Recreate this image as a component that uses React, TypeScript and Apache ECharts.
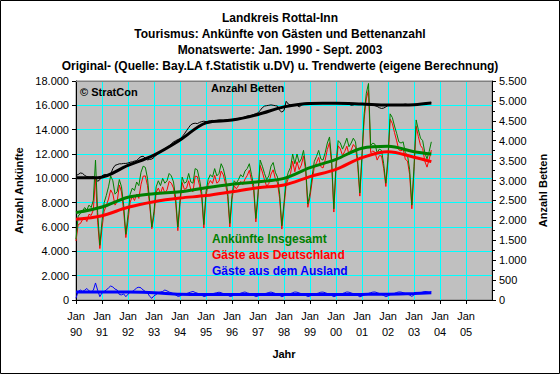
import React, { useEffect, useRef } from 'react';
import * as echarts from 'echarts';

const titleLines = [
  'Landkreis Rottal-Inn',
  'Tourismus: Ankünfte von Gästen und Bettenanzahl',
  'Monatswerte: Jan. 1990 - Sept. 2003',
  'Original- (Quelle: Bay.LA f.Statistik u.DV) u. Trendwerte (eigene Berechnung)',
];

const yearLabels = ['90', '91', '92', '93', '94', '95', '96', '97', '98', '99', '00', '01', '02', '03', '04', '05'];

// Monthly values Jan 1990 .. Sep 2003
const ankuenfte = [
  5000, 6900, 7100, 7300, 7600, 7400, 7800, 7600, 8200, 11500, 7200, 4500,
  6500, 8000, 8600, 9300, 10200, 9800, 8700, 8900, 9900, 9300, 7800, 5400,
  7000, 8700, 9200, 9000, 9700, 9400, 10500, 11000, 10900, 10000, 8100, 6000,
  7300, 9300, 9800, 9400, 10000, 9600, 9800, 10400, 10200, 9700, 8400, 6000,
  8200, 10100, 9600, 9700, 10400, 9700, 9600, 10800, 10700, 9900, 8900, 6200,
  8900, 9900, 10300, 10100, 10800, 10200, 10400, 11200, 10800, 10000, 8900, 6300,
  8600, 9800, 9600, 9900, 10300, 10100, 10600, 10800, 11200, 10300, 9400, 6700,
  8800, 11500, 11000, 10400, 9900, 10200, 11000, 11300, 10500, 10100, 8700, 6100,
  8000, 9900, 10500, 10900, 12000, 11200, 12000, 11300, 11600, 12300, 11000, 7900,
  8800, 10200, 11400, 11800, 12300, 11600, 11500, 12100, 12900, 13400, 11500, 7500,
  11200, 13100, 12900, 12400, 12800, 13300, 12600, 12900, 13300, 13000, 11500, 8800,
  12000, 15300, 17000, 17800, 12700, 12900, 12800, 12100, 12400, 12300, 11200, 9600,
  11800, 15300, 15000, 14300, 13700, 13000, 12900, 13000, 12100, 11900, 10700, 7800,
  11000, 14800, 14000, 13300, 13100, 12100, 11600, 12200, 13000,
];

const deutschland = [
  4850, 6200, 6280, 6600, 6800, 6450, 7050, 6950, 7400, 10100, 6400, 4230,
  5920, 7300, 7780, 8300, 9050, 8730, 7800, 8080, 9450, 8880, 7300, 5130,
  6520, 8050, 8500, 8180, 8700, 8350, 9500, 10180, 10200, 9400, 7800, 5860,
  6950, 8850, 9200, 8750, 9300, 8780, 9050, 9750, 9600, 9200, 7980, 5700,
  7870, 9650, 9100, 9180, 9800, 9050, 8900, 10180, 10140, 9420, 8500, 5920,
  8570, 9480, 9820, 9580, 10240, 9600, 9760, 10600, 10280, 9550, 8500, 6000,
  8280, 9380, 9140, 9400, 9740, 9480, 9940, 10220, 10660, 9840, 9020, 6420,
  8470, 11060, 10520, 9880, 9340, 9580, 10350, 10700, 9960, 9630, 8320, 5830,
  7660, 9470, 10020, 10380, 11400, 10540, 11360, 10720, 11080, 11840, 10620, 7620,
  8470, 9780, 10930, 11280, 11720, 10960, 10850, 11500, 12370, 12940, 11130, 7230,
  10860, 12670, 12420, 11870, 12200, 12640, 11960, 12320, 12780, 12550, 11120, 8540,
  11670, 14870, 16530, 17260, 12100, 12250, 12140, 11500, 11870, 11840, 10820, 9330,
  11460, 14860, 14510, 13760, 13080, 12340, 12250, 12400, 11560, 11420, 10300, 7500,
  10580, 14280, 13440, 12700, 12450, 11400, 10920, 11560, 12320,
];

const ausland = [
  150, 700, 820, 700, 800, 950, 750, 650, 800, 1400, 800, 270,
  580, 700, 820, 1000, 1150, 1070, 900, 820, 450, 420, 500, 270,
  480, 650, 700, 820, 1000, 1050, 1000, 820, 700, 600, 300, 140,
  350, 450, 600, 650, 700, 820, 750, 650, 600, 500, 420, 300,
  330, 450, 500, 520, 600, 650, 700, 620, 560, 480, 400, 280,
  330, 420, 480, 520, 560, 600, 640, 600, 520, 450, 400, 300,
  320, 420, 460, 500, 560, 620, 660, 580, 540, 460, 380, 280,
  330, 440, 480, 520, 560, 620, 650, 600, 540, 470, 380, 270,
  340, 430, 480, 520, 600, 660, 640, 580, 520, 460, 380, 280,
  330, 420, 470, 520, 580, 640, 650, 600, 530, 460, 370, 270,
  340, 430, 480, 530, 600, 660, 640, 580, 520, 450, 380, 260,
  330, 430, 470, 540, 600, 650, 660, 600, 530, 460, 380, 270,
  340, 440, 490, 540, 620, 660, 650, 600, 540, 480, 400, 300,
  420, 520, 560, 600, 650, 700, 680, 640, 680,
];

const betten = [
  3130, 3150, 3190, 3180, 3130, 3100, 3090, 3090, 3100, 3050, 2980, 3020,
  3120, 3150, 3150, 3140, 3160, 3300, 3380, 3400, 3420, 3420, 3430, 3430,
  3440, 3460, 3470, 3490, 3500, 3560, 3600, 3610, 3560, 3520, 3530, 3540,
  3580, 3640, 3680, 3720, 3770, 3800, 3830, 3870, 3920, 3970, 4000, 4030,
  4050, 4100, 4170, 4250, 4330, 4400, 4430, 4440, 4430, 4460, 4480, 4490,
  4480, 4490, 4500, 4510, 4500, 4510, 4520, 4520, 4510, 4520, 4530, 4530,
  4530, 4540, 4550, 4560, 4570, 4580, 4600, 4620, 4630, 4640, 4660, 4680,
  4700, 4760, 4830, 4870, 4880, 4890, 4900, 4890, 4880, 4870, 4760, 4720,
  4760, 4990, 4920, 4900, 4890, 4900, 4890, 4850, 4890, 4920, 4940, 4950,
  4950, 4950, 4960, 4950, 4950, 4960, 4960, 4950, 4950, 4960, 4950, 4940,
  4950, 4950, 4940, 4930, 4940, 4950, 4920, 4890, 4900, 4920, 4920, 4930,
  4920, 4920, 4910, 4900, 4900, 4890, 4880, 4860, 4830, 4810, 4820, 4850,
  4890, 4900, 4900, 4910, 4910, 4900, 4910, 4910, 4920, 4910, 4910, 4900,
  4900, 4910, 4920, 4920, 4930, 4940, 4940, 4950, 4960,
];

// Trend values (month index from Jan 1990)
const trendMonths = [0, 12, 24, 36, 48, 60, 72, 84, 96, 108, 120, 132, 144, 156, 164];
const ankuenfteTrend = [7180, 7640, 8440, 8740, 8900, 9230, 9510, 9720, 10000, 10880, 11560, 12470, 12630, 12190, 12000];
const deutschlandTrend = [6630, 6930, 7620, 8080, 8380, 8580, 8900, 9230, 9450, 10140, 10740, 11700, 12190, 11730, 11370];
const auslandTrend = [660, 660, 650, 600, 470, 450, 450, 450, 450, 450, 450, 460, 480, 540, 600];
const bettenTrendMonths = [0, 10, 24, 36, 48, 60, 72, 84, 96, 108, 120, 132, 144, 156, 164];
const bettenTrend = [3070, 3070, 3380, 3640, 4016, 4450, 4518, 4660, 4850, 4937, 4940, 4920, 4895, 4905, 4945];

const FONT = 'Arial, "Liberation Sans", sans-serif';

function fmt(v: number): string {
  if (v >= 1000) {
    const t = Math.floor(v / 1000);
    const r = v % 1000;
    return t + '.' + String(r).padStart(3, '0');
  }
  return String(v);
}

function monthly(arr: number[]) {
  return arr.map((v, i) => [i, v]);
}
function pairs(ms: number[], vs: number[]) {
  return ms.map((m, i) => [m, vs[i]]);
}

function thin(name: string, data: any, color: string, yAxisIndex = 0) {
  return {
    name, type: 'line', data, yAxisIndex, symbol: 'none', silent: true,
    lineStyle: { color, width: 1 }, z: 3,
  };
}
function thick(name: string, data: any, color: string, yAxisIndex = 0) {
  return {
    name, type: 'line', data, yAxisIndex, symbol: 'none', silent: true, smooth: 0.35,
    lineStyle: { color, width: 3 }, z: 4,
  };
}

export default function App() {
  const ref = useRef<HTMLDivElement>(null);
  useEffect(() => {
    if (!ref.current) return;
    const chart = echarts.init(ref.current, null, { renderer: 'svg' });
    const option: any = {
      animation: false,
      backgroundColor: '#ffffff',
      title: {
        text: titleLines.join('\n'),
        left: 'center',
        top: 5,
        textStyle: { fontFamily: FONT, fontSize: 12, fontWeight: 'bold', lineHeight: 16, color: '#000' },
      },
      grid: {
        left: 76, top: 81, width: 416, height: 219,
        show: true, backgroundColor: '#C0C0C0', borderColor: '#808080', borderWidth: 1,
      },
      xAxis: {
        type: 'value', min: 0, max: 192, interval: 12,
        axisLine: { show: true, lineStyle: { color: '#000', width: 1 } },
        axisTick: { show: true, length: 4, lineStyle: { color: '#000' } },
        axisLabel: {
          formatter: (v: number) => {
            const i = Math.round(v / 12);
            return i < yearLabels.length ? 'Jan\n' + yearLabels[i] : '';
          },
          color: '#000', fontFamily: FONT, fontSize: 11, lineHeight: 16, margin: 8,
          showMaxLabel: false,
        },
        splitLine: { show: true, lineStyle: { color: '#00FFFF', width: 1 } },
        name: 'Jahr', nameLocation: 'middle', nameGap: 48,
        nameTextStyle: { fontFamily: FONT, fontSize: 11, fontWeight: 'bold', color: '#000' },
      },
      yAxis: [
        {
          type: 'value', min: 0, max: 18000, interval: 2000, position: 'left',
          axisLine: { show: true, lineStyle: { color: '#000', width: 1 } },
          axisTick: { show: true, length: 4, lineStyle: { color: '#000' } },
          axisLabel: { formatter: fmt, color: '#000', fontFamily: FONT, fontSize: 11, margin: 7 },
          splitLine: { show: true, lineStyle: { color: '#00FFFF', width: 1 } },
          name: 'Anzahl Ankünfte', nameLocation: 'middle', nameGap: 46, nameRotate: 90,
          nameTextStyle: { fontFamily: FONT, fontSize: 11, fontWeight: 'bold', color: '#000' },
        },
        {
          type: 'value', min: 0, max: 5500, interval: 500, position: 'right',
          axisLine: { show: true, lineStyle: { color: '#000', width: 1 } },
          axisTick: { show: true, length: 4, lineStyle: { color: '#000' } },
          minorTick: { show: true, splitNumber: 2, length: 3, lineStyle: { color: '#000' } },
          axisLabel: { formatter: fmt, color: '#000', fontFamily: FONT, fontSize: 11, margin: 7 },
          splitLine: { show: false },
          name: 'Anzahl Betten', nameLocation: 'middle', nameGap: 41, nameRotate: 90,
          nameTextStyle: { fontFamily: FONT, fontSize: 11, fontWeight: 'bold', color: '#000' },
        },
      ],
      graphic: [
        { type: 'rect', silent: true, z: 100, shape: { x: 0.5, y: 0.5, width: 559, height: 373 }, style: { fill: 'none', stroke: '#000', lineWidth: 1 } },
        { type: 'line', silent: true, z: 100, shape: { x1: 76, y1: 81.5, x2: 492, y2: 81.5 }, style: { stroke: '#808080', lineWidth: 1 } },
        { type: 'text', silent: true, z: 100, x: 80, y: 86, style: { text: '© StratCon', fill: '#000', font: 'bold 11px ' + FONT } },
        { type: 'text', silent: true, z: 100, x: 211, y: 82, style: { text: 'Anzahl Betten', fill: '#000', font: 'bold 11px ' + FONT } },
        { type: 'text', silent: true, z: 100, x: 212, y: 233, style: { text: 'Ankünfte Insgesamt', fill: '#008000', font: 'bold 12px ' + FONT } },
        { type: 'text', silent: true, z: 100, x: 212, y: 249, style: { text: 'Gäste aus Deutschland', fill: '#FF0000', font: 'bold 12px ' + FONT } },
        { type: 'text', silent: true, z: 100, x: 212, y: 265, style: { text: 'Gäste aus dem Ausland', fill: '#0000FF', font: 'bold 12px ' + FONT } },
      ],
      series: [
        thin('Betten', monthly(betten), '#000000', 1),
        thick('Betten Trend', pairs(bettenTrendMonths, bettenTrend), '#000000', 1),
        thin('Deutschland', monthly(deutschland), '#FF0000'),
        thin('Insgesamt', monthly(ankuenfte), '#008000'),
        thin('Ausland', monthly(ausland), '#0000FF'),
        thick('Deutschland Trend', pairs(trendMonths, deutschlandTrend), '#FF0000'),
        thick('Insgesamt Trend', pairs(trendMonths, ankuenfteTrend), '#008000'),
        thick('Ausland Trend', pairs(trendMonths, auslandTrend), '#0000FF'),
      ],
    };
    chart.setOption(option);
    return () => chart.dispose();
  }, []);
  return <div ref={ref} style={{ position: 'fixed', left: 0, top: 0, width: 560, height: 374 }} />;
}
